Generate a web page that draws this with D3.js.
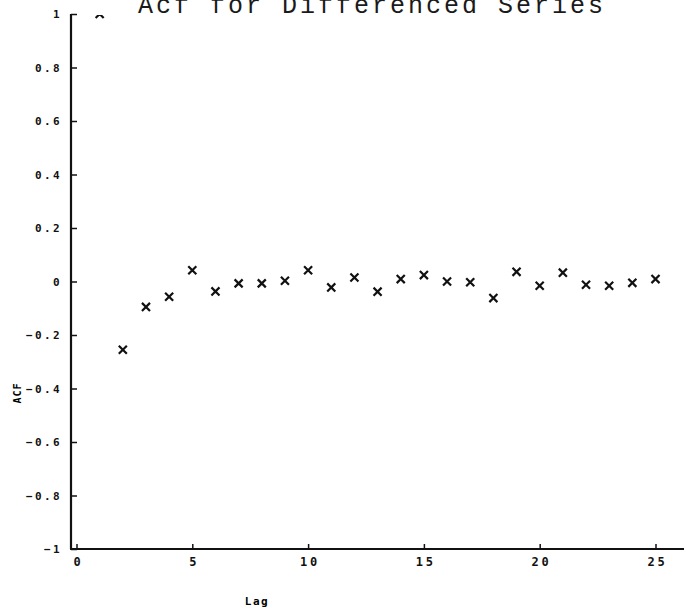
<!DOCTYPE html>
<html>
<head>
<meta charset="utf-8">
<script src="https://cdn.jsdelivr.net/npm/d3@7"></script>
<style>
  body { margin: 0; background: #fff; }
  #vis { display: block; }
  .tick text { font-family: "DejaVu Sans Mono", monospace; font-weight: bold; fill: #111; }
</style>
</head>
<body>
<svg id="vis"></svg>
<script>
// lag / acf values
var lags = [1, 2, 3, 4, 5, 6, 7, 8, 9, 10, 11, 12, 13, 14, 15, 16, 17, 18, 19, 20, 21, 22, 23, 24, 25];
var acfValues = [1, -0.255, -0.095, -0.057, 0.042, -0.037, -0.007, -0.007, 0.003, 0.042, -0.022, 0.015, -0.038,
    0.009, 0.024, 0, -0.003, -0.062, 0.036, -0.016, 0.033, -0.012, -0.016, -0.005, 0.009];
var xTicks = [0, 5, 10, 15, 20, 25];
var yTicks = [-1, -0.8, -0.6, -0.4, -0.2, 0, 0.2, 0.4, 0.6, 0.8, 1];

var width = 687, height = 616;
var svg = d3.select('#vis').attr('width', width).attr('height', height);

var x = d3.scaleLinear().domain([0, 25]).range([76.5, 655.5]);
var y = d3.scaleLinear().domain([-1, 1]).range([549, 14]);
var axisLeftX = 71;
var axisRightX = 684;

// title, its top edge runs off the page like in the scan
svg.append('text')
    .attr('x', 372).attr('y', 13)
    .attr('text-anchor', 'middle')
    .style('font-family', '"Liberation Mono", monospace')
    .style('font-size', '25px')
    .style('letter-spacing', '3px')
    .style('fill', '#1a1a1a')
    .text('Acf for Differenced Series');

var yAxis = d3.axisLeft(y).tickValues(yTicks)
    .tickFormat(function(d) { return d3.format('')(+d.toFixed(1)); })
    .tickSizeInner(-6).tickSizeOuter(0).tickPadding(9);
var gy = svg.append('g').attr('transform', 'translate(' + axisLeftX + ',0)').call(yAxis);
gy.select('.domain').remove();
gy.selectAll('.tick line').attr('stroke', '#111').attr('stroke-width', 1.5);
gy.selectAll('.tick text').style('font-size', '11px').style('letter-spacing', '2.4px');

var xAxis = d3.axisBottom(x).tickValues(xTicks)
    .tickSizeInner(-5).tickSizeOuter(0).tickPadding(8);
var gx = svg.append('g').attr('transform', 'translate(0,' + y(-1) + ')').call(xAxis);
gx.select('.domain').remove();
gx.selectAll('.tick line').attr('stroke', '#111').attr('stroke-width', 1.5);
gx.selectAll('.tick text').style('font-size', '12px').style('letter-spacing', '2.8px')
    .attr('dx', '1.4px');

// axis lines
svg.append('line')
    .attr('x1', axisLeftX).attr('x2', axisLeftX)
    .attr('y1', y(1)).attr('y2', y(-1))
    .attr('stroke', '#111').attr('stroke-width', 2.2);
svg.append('line')
    .attr('x1', axisLeftX - 1).attr('x2', axisRightX)
    .attr('y1', y(-1)).attr('y2', y(-1))
    .attr('stroke', '#111').attr('stroke-width', 2);

// axis titles
svg.append('text')
    .attr('x', 257).attr('y', 605)
    .attr('text-anchor', 'middle')
    .style('font-family', '"DejaVu Sans Mono", monospace')
    .style('font-weight', 'bold').style('font-size', '11px')
    .style('letter-spacing', '1.5px')
    .text('Lag');
svg.append('text')
    .attr('transform', 'translate(21,393) rotate(-90)')
    .attr('text-anchor', 'middle')
    .style('font-family', '"DejaVu Sans Mono", monospace')
    .style('font-weight', 'bold').style('font-size', '10px')
    .style('letter-spacing', '1px')
    .text('ACF');

// points, clipped at the top of the plot
svg.append('clipPath').attr('id', 'plotClip')
    .append('rect')
    .attr('x', axisLeftX).attr('y', y(1) + 1)
    .attr('width', axisRightX - axisLeftX).attr('height', y(-1) - y(1));

var marker = d3.symbol(d3.symbolTimes, 44);
svg.append('g').attr('clip-path', 'url(#plotClip)')
    .selectAll('path')
    .data(lags)
    .enter().append('path')
    .attr('d', marker)
    .attr('transform', function(d, i) { return 'translate(' + x(d) + ',' + y(acfValues[i]) + ')'; })
    .attr('fill', 'none')
    .attr('stroke', '#111')
    .attr('stroke-width', 2.2);
</script>
</body>
</html>
